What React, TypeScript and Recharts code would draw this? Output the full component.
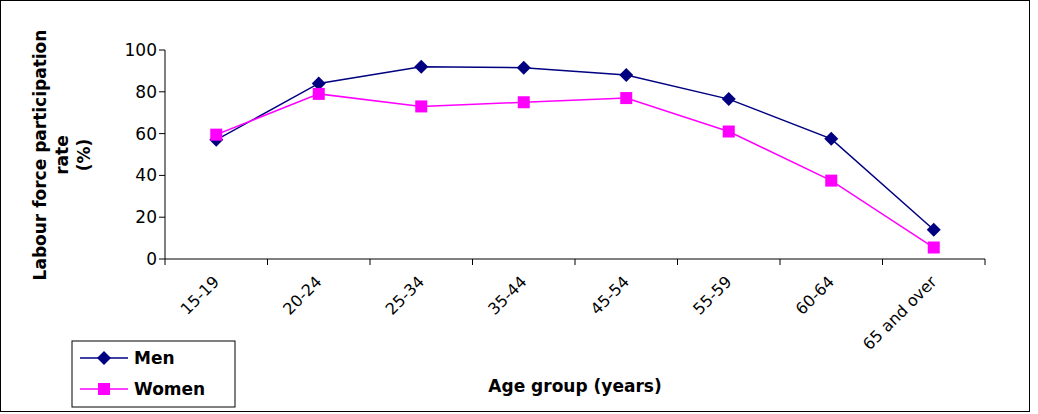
import React from 'react';
import { LineChart, Line, XAxis, YAxis } from 'recharts';

const categories = ['15-19', '20-24', '25-34', '35-44', '45-54', '55-59', '60-64', '65 and over'];
const men = [57, 84, 92, 91.5, 88, 76.5, 57.5, 14];
const women = [59.5, 79, 73, 75, 77, 61, 37.5, 5.5];
const yTicks = [0, 20, 40, 60, 80, 100];

const data = categories.map((c, i) => ({ x: i + 0.5, cat: c, men: men[i], women: women[i] }));
const FONT = '"DejaVu Sans", Verdana, sans-serif';
const BAND = 102.5;

const XTick = (props: any) => {
  const { x, y, payload } = props;
  const i = payload.value;
  if (i >= categories.length) return null;
  const cx = x + BAND / 2;
  const cy = y + 12;
  return (
    <text x={cx} y={cy} transform={`rotate(-45 ${cx} ${cy})`} textAnchor="end" dominantBaseline="central"
      fontFamily={FONT} fontSize={16} fill="#000">{categories[i]}</text>
  );
};

const Diamond = (props: any) => {
  const { cx, cy } = props;
  return <path d={`M${cx},${cy - 7}L${cx + 7},${cy}L${cx},${cy + 7}L${cx - 7},${cy}Z`} fill="#000080" />;
};
const Square = (props: any) => {
  const { cx, cy } = props;
  return <rect x={cx - 6} y={cy - 6} width={12} height={12} fill="#FF00FF" />;
};

export default function App() {
  return (
    <div style={{ position: 'absolute', left: 0, top: 0, width: 1038, height: 414, background: '#fff' }}>
      <div style={{ position: 'absolute', left: 0, top: 0, width: 1030, height: 412, border: '1px solid #000', boxSizing: 'border-box' }} />
      <LineChart width={1038} height={414} data={data} margin={{ top: 50, right: 53, left: 105, bottom: 0 }}>
        <XAxis type="number" dataKey="x" domain={[0, 8]} ticks={[0, 1, 2, 3, 4, 5, 6, 7, 8]} height={155}
          tick={<XTick />} tickLine={{ stroke: '#000' }} tickSize={6} axisLine={{ stroke: '#000' }} interval={0} />
        <YAxis domain={[0, 100]} ticks={yTicks} width={60} tick={{ fill: '#000', fontSize: 17, fontFamily: FONT }}
          tickLine={{ stroke: '#000' }} tickSize={6} axisLine={{ stroke: '#000' }} />
        <Line dataKey="men" stroke="#000080" strokeWidth={1.5} dot={<Diamond />} isAnimationActive={false} />
        <Line dataKey="women" stroke="#FF00FF" strokeWidth={1.5} dot={<Square />} isAnimationActive={false} />
      </LineChart>
      <svg style={{ position: 'absolute', left: 0, top: 0 }} width={1038} height={414}>
        <text transform="rotate(-90 46 155)" x={46} y={155} textAnchor="middle" fontFamily={FONT} fontWeight="bold" fontSize={17}>
          <tspan x={46} dy={0}>Labour force participation</tspan>
          <tspan x={46} dy={22}>rate</tspan>
          <tspan x={46} dy={22}>(%)</tspan>
        </text>
        <text x={575} y={392} textAnchor="middle" fontFamily={FONT} fontWeight="bold" fontSize={17}>Age group (years)</text>
        <rect x={72} y={341} width={163} height={66} fill="#fff" stroke="#000" />
        <line x1={80} y1={358} x2={128} y2={358} stroke="#000080" strokeWidth={1.5} />
        <path d="M104,351L111,358L104,365L97,358Z" fill="#000080" />
        <text x={134} y={364} fontFamily={FONT} fontWeight="bold" fontSize={17}>Men</text>
        <line x1={80} y1={389} x2={128} y2={389} stroke="#FF00FF" strokeWidth={1.5} />
        <rect x={98} y={383} width={12} height={12} fill="#FF00FF" />
        <text x={134} y={395} fontFamily={FONT} fontWeight="bold" fontSize={17}>Women</text>
      </svg>
    </div>
  );
}
